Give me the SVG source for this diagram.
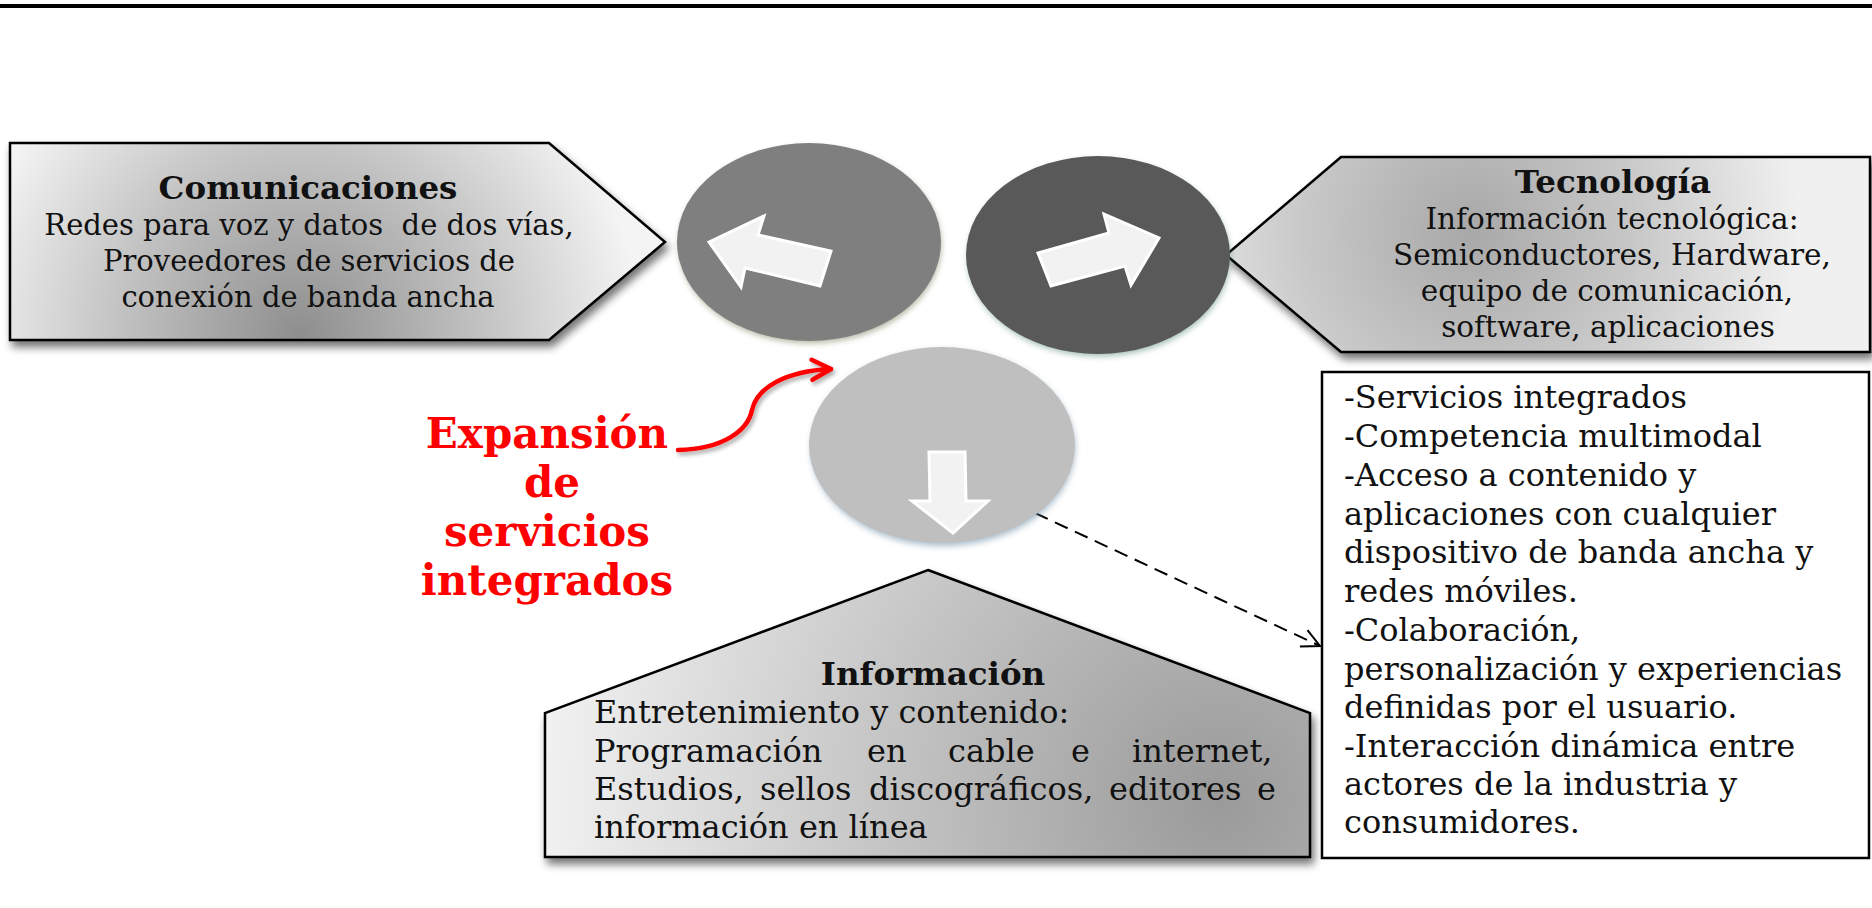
<svg xmlns="http://www.w3.org/2000/svg" width="1872" height="908" viewBox="0 0 1872 908">
<defs>
<style>
.body{font-family:"DejaVu Serif","Liberation Serif",serif;fill:#111;}
.pt{font-size:29.5px;}
.pc{font-size:29px;}
.bx{font-size:32px;}
.hd{font-family:"DejaVu Serif","Liberation Serif",serif;font-weight:bold;fill:#111;font-size:32.5px;}
.red{font-family:"DejaVu Serif","Liberation Serif",serif;font-weight:bold;fill:#ff0000;font-size:42px;}
.pent{stroke:#000;stroke-width:2.5;stroke-linejoin:miter;}
.warrow{fill:#f2f2f2;stroke:#ffffff;stroke-width:3;stroke-linejoin:miter;}
</style>
<radialGradient id="gCom" gradientUnits="userSpaceOnUse" cx="300" cy="335" r="340">
<stop offset="0" stop-color="#8e8e8e"/>
<stop offset="0.55" stop-color="#c4c4c4"/>
<stop offset="1" stop-color="#f4f4f4"/>
</radialGradient>
<radialGradient id="gTec" gradientUnits="userSpaceOnUse" cx="1470" cy="230" r="330">
<stop offset="0" stop-color="#a8a8a8"/>
<stop offset="0.5" stop-color="#c8c8c8"/>
<stop offset="1" stop-color="#f0f0f0"/>
</radialGradient>
<radialGradient id="gInf" gradientUnits="userSpaceOnUse" cx="1220" cy="800" r="700">
<stop offset="0" stop-color="#9a9a9a"/>
<stop offset="0.5" stop-color="#c6c6c6"/>
<stop offset="1" stop-color="#f4f4f4"/>
</radialGradient>
<filter id="shadow" x="-10%" y="-10%" width="125%" height="135%">
<feGaussianBlur in="SourceAlpha" stdDeviation="4"/>
<feOffset dx="3" dy="6" result="b"/>
<feComponentTransfer><feFuncA type="linear" slope="0.55"/></feComponentTransfer>
<feMerge><feMergeNode/><feMergeNode in="SourceGraphic"/></feMerge>
</filter>
<filter id="blur3" x="-10%" y="-10%" width="120%" height="130%">
<feGaussianBlur stdDeviation="3"/>
</filter>
<filter id="redsh" x="-20%" y="-20%" width="140%" height="160%">
<feGaussianBlur in="SourceAlpha" stdDeviation="2"/>
<feOffset dx="2" dy="3"/>
<feComponentTransfer><feFuncA type="linear" slope="0.35"/></feComponentTransfer>
<feMerge><feMergeNode/><feMergeNode in="SourceGraphic"/></feMerge>
</filter>
<marker id="openArrow" markerUnits="userSpaceOnUse" markerWidth="24" markerHeight="24" refX="20" refY="10" orient="auto" viewBox="0 0 24 20">
<path d="M2,1 L20,10 L2,19" fill="none" stroke="#000" stroke-width="2"/>
</marker>
<marker id="redArrow" markerUnits="userSpaceOnUse" markerWidth="26" markerHeight="26" refX="22" refY="12" orient="auto" viewBox="0 0 26 24">
<path d="M3,2 L22,12 L3,22" fill="none" stroke="#ff0000" stroke-width="4.5" stroke-linecap="round" stroke-linejoin="round"/>
</marker>
</defs>

<rect x="0" y="0" width="1872" height="908" fill="#ffffff"/>
<rect x="0" y="4" width="1872" height="4" fill="#000000"/>

<g id="connectors">
<path d="M1035,513 L1320,646" fill="none" stroke="#000" stroke-width="2" stroke-dasharray="14,8" marker-end="url(#openArrow)"/>
<g filter="url(#redsh)">
<path d="M678,450 C724,449 748,430 752,410 C757,388 785,371 831,369" fill="none" stroke="#ff0000" stroke-width="4.5" stroke-linecap="round" marker-end="url(#redArrow)"/>
</g>
</g>

<g id="node-comunicaciones">
<polygon class="pent" points="10,143 549,143 665,242 549,340 10,340" fill="url(#gCom)" filter="url(#shadow)"/>
<text class="hd" x="308" y="199" text-anchor="middle">Comunicaciones</text>
<text class="body pc" x="309" y="235" text-anchor="middle" xml:space="preserve">Redes para voz y datos  de dos vías,</text>
<text class="body pc" x="309" y="271" text-anchor="middle">Proveedores de servicios de</text>
<text class="body pc" x="308" y="307" text-anchor="middle">conexión de banda ancha</text>
</g>

<g id="node-tecnologia">
<polygon class="pent" points="1226,255 1341,157 1870,157 1870,352 1341,352" fill="url(#gTec)" filter="url(#shadow)"/>
<text class="hd" x="1613" y="193" text-anchor="middle">Tecnología</text>
<text class="body pt" x="1612" y="229" text-anchor="middle">Información tecnológica:</text>
<text class="body pt" x="1612" y="265" text-anchor="middle">Semiconductores, Hardware,</text>
<text class="body pt" x="1607" y="301" text-anchor="middle">equipo de comunicación,</text>
<text class="body pt" x="1608" y="337" text-anchor="middle">software, aplicaciones</text>
</g>

<g id="node-circle-left">
<ellipse cx="810" cy="245" rx="131" ry="98" fill="#7c7c5a" opacity="0.6" filter="url(#blur3)"/>
<ellipse cx="809" cy="242" rx="132" ry="99" fill="#7f7f7f"/>
<polygon class="warrow" points="709,242 764,216 758,235 831,251 820,286 745,268 741,287"/>
</g>

<g id="node-circle-right">
<ellipse cx="1099" cy="258" rx="131" ry="98" fill="#5a8a80" opacity="0.6" filter="url(#blur3)"/>
<ellipse cx="1098" cy="255" rx="132" ry="99" fill="#595959"/>
<polygon class="warrow" points="1159,238 1131,285 1125,266 1051,286 1038,253 1109,233 1104,214"/>
</g>

<g id="node-circle-bottom">
<ellipse cx="943" cy="448" rx="132" ry="98" fill="#6f90a8" opacity="0.6" filter="url(#blur3)"/>
<ellipse cx="942" cy="445" rx="133" ry="98" fill="#bfbfbf"/>
<polygon class="warrow" points="929,452 965,452 966,501 988,501 953,533 912,501 930,501"/>
</g>

<g id="node-informacion">
<polygon class="pent" points="928,570 1310,713 1310,857 545,857 545,713" fill="url(#gInf)" filter="url(#shadow)"/>
<text class="hd" x="933" y="685" text-anchor="middle">Información</text>
<text class="body bx" x="594" y="723">Entretenimiento y contenido:</text>
<text class="body bx" y="762"><tspan x="594">Programación</tspan><tspan x="867">en</tspan><tspan x="948">cable</tspan><tspan x="1071">e</tspan><tspan x="1132">internet,</tspan></text>
<text class="body bx" y="800"><tspan x="594">Estudios,</tspan><tspan x="760">sellos</tspan><tspan x="869">discográficos,</tspan><tspan x="1109">editores</tspan><tspan x="1257">e</tspan></text>
<text class="body bx" x="594" y="838">información en línea</text>
</g>

<g id="node-expansion">
<text class="red" x="547" y="448" text-anchor="middle">Expansión</text>
<text class="red" x="552" y="497" text-anchor="middle">de</text>
<text class="red" x="547" y="546" text-anchor="middle">servicios</text>
<text class="red" x="547" y="595" text-anchor="middle">integrados</text>
</g>

<g id="node-lista">
<rect x="1322" y="372" width="547" height="486" fill="#ffffff" stroke="#000" stroke-width="2.5"/>
<text class="body bx" x="1344" y="408">-Servicios integrados</text>
<text class="body bx" x="1344" y="447">-Competencia multimodal</text>
<text class="body bx" x="1344" y="486">-Acceso a contenido y</text>
<text class="body bx" x="1344" y="525">aplicaciones con cualquier</text>
<text class="body bx" x="1344" y="563">dispositivo de banda ancha y</text>
<text class="body bx" x="1344" y="602">redes móviles.</text>
<text class="body bx" x="1344" y="641">-Colaboración,</text>
<text class="body bx" x="1344" y="680">personalización y experiencias</text>
<text class="body bx" x="1344" y="718">definidas por el usuario.</text>
<text class="body bx" x="1344" y="757">-Interacción dinámica entre</text>
<text class="body bx" x="1344" y="795">actores de la industria y</text>
<text class="body bx" x="1344" y="833">consumidores.</text>
</g>
</svg>
